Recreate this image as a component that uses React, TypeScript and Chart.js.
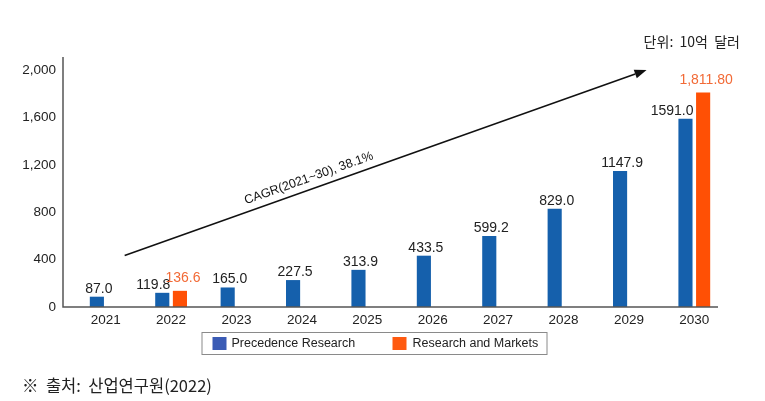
import React, { useEffect, useRef } from 'react';
import { Chart, registerables } from 'chart.js';

Chart.register(...registerables);

const years = ['2021', '2022', '2023', '2024', '2025', '2026', '2027', '2028', '2029', '2030'];
const precedence = [87.0, 119.8, 165.0, 227.5, 313.9, 433.5, 599.2, 829.0, 1147.9, 1591.0];
const researchMarkets = [null, 136.6, null, null, null, null, null, null, null, 1811.8];
const precedenceLabels = ['87.0', '119.8', '165.0', '227.5', '313.9', '433.5', '599.2', '829.0', '1147.9', '1591.0'];
const researchLabels = [null, '136.6', null, null, null, null, null, null, null, '1,811.80'];
const yTickValues = [0, 400, 800, 1200, 1600, 2000];
const seriesNames = ['Precedence Research', 'Research and Markets'];
const cagrText = 'CAGR(2021~30), 38.1%';
const unitText = '단위:  10억  달러';
const sourceText = '※  출처:  산업연구원(2022)';
// arrow annotation in data units [category index, value]
const arrowFrom = [0.29, 435];
const arrowTo = [8.27, 2002];

const BLUE = '#1560AC';
const ORANGE = '#FF5005';
const LEGEND_BLUE = '#3A5BB5';
const LEGEND_ORANGE = '#FF5A10';
const ORANGE_TEXT = '#F26A36';
const TEXT = '#222222';
const AXIS = '#555555';
const LATIN = '"Liberation Sans", Arial, sans-serif';
const KR = '"Noto Sans CJK KR", "Noto Sans", sans-serif';

const overlay = {
  id: 'overlay',
  afterDraw(chart: any) {
    const { ctx, chartArea, scales } = chart;
    const xs = scales.x;
    const ys = scales.y;
    ctx.save();

    // axis lines
    ctx.strokeStyle = AXIS;
    ctx.lineWidth = 1.5;
    ctx.beginPath();
    ctx.moveTo(chartArea.left - 10, chartArea.top);
    ctx.lineTo(chartArea.left - 10, chartArea.bottom);
    ctx.lineTo(chartArea.right - 9, chartArea.bottom);
    ctx.stroke();

    // value labels
    ctx.font = `14px ${LATIN}`;
    ctx.textBaseline = 'alphabetic';
    const m0 = chart.getDatasetMeta(0);
    const m1 = chart.getDatasetMeta(1);
    m0.data.forEach((bar: any, i: number) => {
      const t = precedenceLabels[i];
      if (!t) return;
      ctx.fillStyle = TEXT;
      const paired = researchMarkets[i] != null;
      if (paired) {
        ctx.textAlign = 'right';
        ctx.fillText(t, bar.x + bar.width / 2 + 1, bar.y - 4);
      } else {
        ctx.textAlign = 'center';
        ctx.fillText(t, bar.x + 2, bar.y - 4);
      }
    });
    m1.data.forEach((bar: any, i: number) => {
      const t = researchLabels[i];
      if (!t) return;
      ctx.fillStyle = ORANGE_TEXT;
      ctx.textAlign = 'center';
      ctx.fillText(t, bar.x + 3, bar.y - 9);
    });

    // arrow
    const x0 = xs.getPixelForValue(arrowFrom[0]);
    const y0 = ys.getPixelForValue(arrowFrom[1]);
    const x1 = xs.getPixelForValue(arrowTo[0]);
    const y1 = ys.getPixelForValue(arrowTo[1]);
    const ang = Math.atan2(y1 - y0, x1 - x0);
    const headLen = 12;
    const headW = 4.5;
    const bx = x1 - headLen * Math.cos(ang);
    const by = y1 - headLen * Math.sin(ang);
    ctx.strokeStyle = '#111';
    ctx.fillStyle = '#111';
    ctx.lineWidth = 1.5;
    ctx.beginPath();
    ctx.moveTo(x0, y0);
    ctx.lineTo(bx, by);
    ctx.stroke();
    ctx.beginPath();
    ctx.moveTo(x1, y1);
    ctx.lineTo(bx + headW * Math.sin(ang), by - headW * Math.cos(ang));
    ctx.lineTo(bx - headW * Math.sin(ang), by + headW * Math.cos(ang));
    ctx.closePath();
    ctx.fill();

    // CAGR text along arrow
    const tFrac = 0.36;
    const cx = x0 + (x1 - x0) * tFrac + 11 * Math.sin(ang);
    const cy = y0 + (y1 - y0) * tFrac - 11 * Math.cos(ang);
    ctx.save();
    ctx.translate(cx, cy);
    ctx.rotate(ang);
    ctx.font = `12.5px ${LATIN}`;
    ctx.fillStyle = '#111';
    ctx.textAlign = 'center';
    ctx.textBaseline = 'middle';
    ctx.fillText(cagrText, 0, 0);
    ctx.restore();

    // legend
    const lx = chartArea.left + 128.5;
    const ly = chartArea.bottom + 25;
    const lw = 345;
    const lh = 22;
    ctx.strokeStyle = '#8a8a8a';
    ctx.lineWidth = 1;
    ctx.strokeRect(lx + 0.5, ly + 0.5, lw, lh);
    ctx.fillStyle = LEGEND_BLUE;
    ctx.fillRect(lx + 11, ly + 5, 14, 13);
    ctx.fillStyle = LEGEND_ORANGE;
    ctx.fillRect(lx + 191, ly + 5, 14, 13);
    ctx.font = `12.5px ${LATIN}`;
    ctx.fillStyle = TEXT;
    ctx.textAlign = 'left';
    ctx.textBaseline = 'middle';
    ctx.fillText(seriesNames[0], lx + 30, ly + 12);
    ctx.fillText(seriesNames[1], lx + 211, ly + 12);

    // unit text
    ctx.font = `14px ${KR}`;
    ctx.textAlign = 'right';
    ctx.textBaseline = 'middle';
    ctx.fillStyle = TEXT;
    ctx.fillText(unitText, chartArea.right + 13, chartArea.top - 15);

    // source
    ctx.font = `16.5px ${KR}`;
    ctx.textAlign = 'left';
    ctx.fillText(sourceText, 22, chart.height - 15);

    ctx.restore();
  },
};

export default function App() {
  const ref = useRef<HTMLCanvasElement | null>(null);
  useEffect(() => {
    if (!ref.current) return;
    const chart = new Chart(ref.current, {
      type: 'bar',
      data: {
        labels: years,
        datasets: [
          {
            label: seriesNames[0],
            data: precedence,
            backgroundColor: BLUE,
            categoryPercentage: 0.54,
            barPercentage: 0.8,
          },
          {
            label: seriesNames[1],
            data: researchMarkets as any,
            backgroundColor: ORANGE,
            categoryPercentage: 0.54,
            barPercentage: 0.8,
          },
        ],
      },
      options: {
        animation: false,
        responsive: false,
        maintainAspectRatio: false,
        layout: { padding: { left: 0, right: 38, top: 57, bottom: 64 } },
        plugins: {
          legend: { display: false },
          tooltip: { enabled: false },
        },
        scales: {
          x: {
            offset: true,
            grid: { display: false, drawTicks: false },
            border: { display: false },
            ticks: {
              color: TEXT,
              font: { size: 13.5, family: LATIN },
              padding: 5,
              maxRotation: 0,
            },
            afterFit(scale: any) {
              scale.height = 30;
            },
          },
          y: {
            min: 0,
            max: 2112,
            grid: { display: false, drawTicks: false },
            border: { display: false },
            ticks: {
              stepSize: 400,
              color: TEXT,
              font: { size: 13.5, family: LATIN },
              padding: 17,
              callback: (v: any) => Number(v).toLocaleString('en-US'),
            },
            afterBuildTicks(scale: any) {
              scale.ticks = yTickValues.map((v) => ({ value: v }));
            },
            afterFit(scale: any) {
              scale.width = 73;
            },
          },
        },
      },
      plugins: [overlay],
    });
    return () => chart.destroy();
  }, []);
  return (
    <div style={{ position: 'absolute', left: 0, top: 0, width: 765, height: 401, background: '#fff' }}>
      <canvas ref={ref} width={765} height={401} style={{ width: 765, height: 401, display: 'block' }} />
    </div>
  );
}
